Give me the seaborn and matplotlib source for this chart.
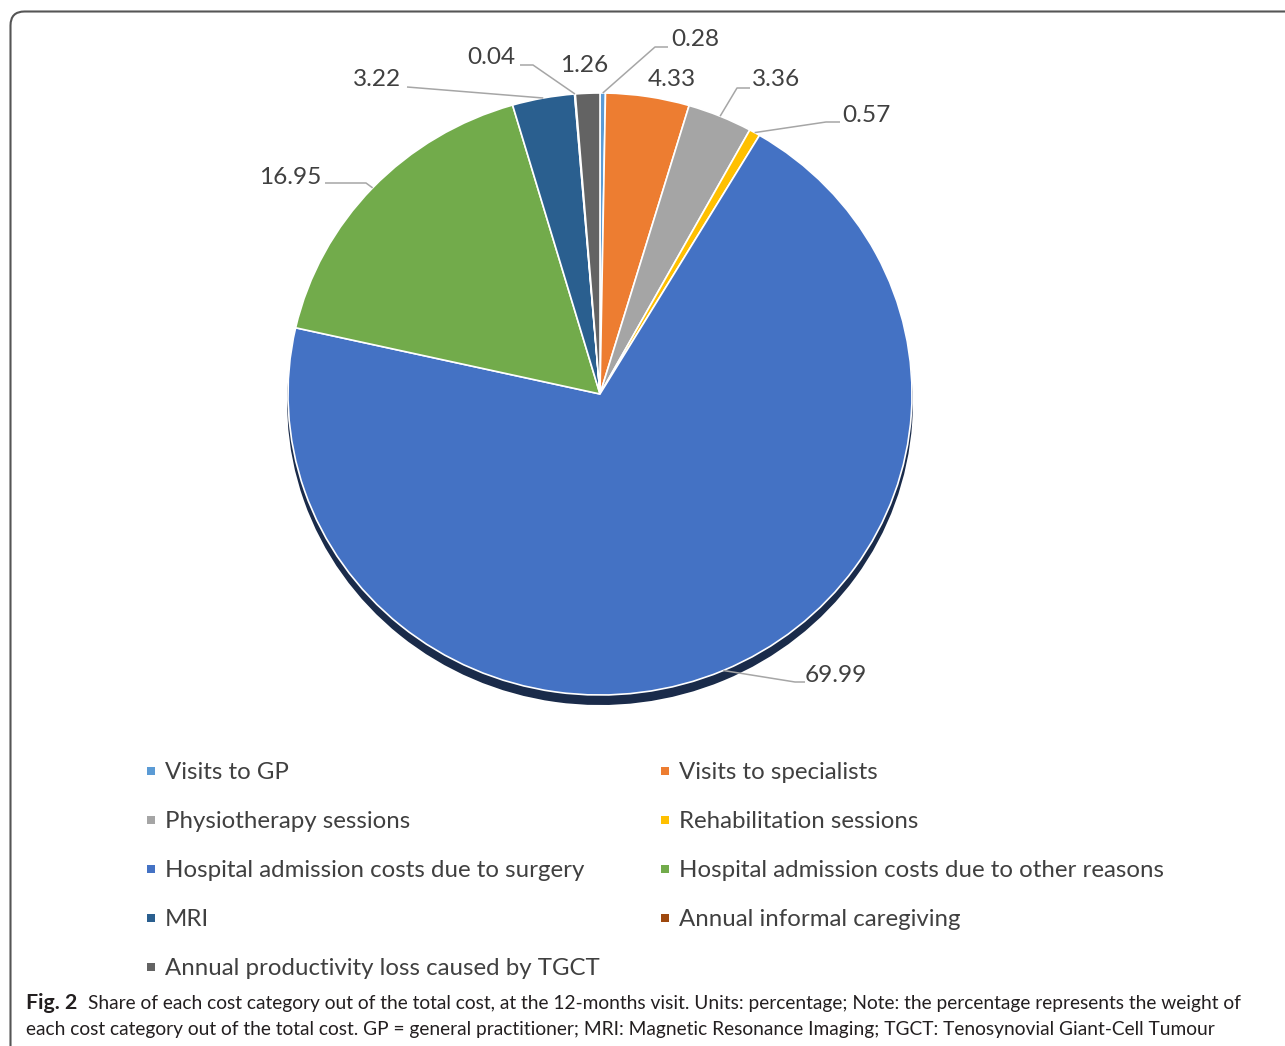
import numpy as np
import matplotlib
matplotlib.use('Agg')
import matplotlib.pyplot as plt
import matplotlib.transforms as mtransforms
import seaborn as sns
from matplotlib.lines import Line2D
from matplotlib.patches import FancyBboxPatch

# ---------------- data ----------------
categories = ["Visits to GP", "Visits to specialists", "Physiotherapy sessions",
              "Rehabilitation sessions", "Hospital admission costs due to surgery",
              "Hospital admission costs due to other reasons", "MRI",
              "Annual informal caregiving", "Annual productivity loss caused by TGCT"]
shares = [0.28, 4.33, 3.36, 0.57, 69.99, 16.95, 3.22, 0.04, 1.26]
colors = ["#5B9BD5", "#ED7D31", "#A5A5A5", "#FFC000", "#4472C4",
          "#72AB4B", "#2A5F8F", "#9E480E", "#636363"]
caption_bold = "Fig. 2"
caption_1 = ("Share of each cost category out of the total cost, at the 12-months visit. "
             "Units: percentage; Note: the percentage represents the weight of")
caption_2 = ("each cost category out of the total cost. GP = general practitioner; "
             "MRI: Magnetic Resonance Imaging; TGCT: Tenosynovial Giant-Cell Tumour")

# ---------------- layout ----------------
sns.set_theme(style='white')
plt.rcParams['font.family'] = ['Lato', 'DejaVu Sans']

W, H = 1285, 1046
fig = plt.figure(figsize=(W / 100, H / 100), dpi=100)
fig.patch.set_facecolor('white')
ax = fig.add_axes([0, 0, 1, 1])
CX, CY, RX, RY = 600, 394, 312, 301


def P(px, py):
    """pixel position (from top-left) -> pie data coordinates"""
    return ((px - CX) / RX, (CY - py) / RY)


wedges, _ = ax.pie(shares, colors=colors, startangle=90, counterclock=False,
                   radius=1.0,
                   wedgeprops=dict(edgecolor='white', linewidth=1.2),
                   shadow=dict(ox=0.0, oy=-0.022, shade=0.62, alpha=1))
ax.set_aspect('auto')
ax.set_xlim(P(0, 0)[0], P(W, 0)[0])
ax.set_ylim(P(0, H)[1], P(0, 0)[1])
ax.axis('off')

# data labels with leader lines
label_pos = [(695, 40), (672, 80), (776, 79), (866, 115), (836, 675),
             (290, 177), (377, 79), (491, 57), (584, 65)]
leader_pts = [[(655, 47), (668, 47)], None, [(737, 88), (750, 88)],
              [(826, 122), (840, 122)], [(795, 682), (805, 682)],
              [(366, 183), (325, 183)], [(407, 87)], [(533, 65), (520, 65)], None]
for w, v, pos, pts in zip(wedges, shares, label_pos, leader_pts):
    ax.text(*P(*pos), f"{v:.2f}", ha='center', va='center', fontsize=17.6,
            color='#404040')
    if pts is not None:
        th = np.deg2rad((w.theta1 + w.theta2) / 2)
        xs = [w.r * np.cos(th)] + [P(*p)[0] for p in pts]
        ys = [w.r * np.sin(th)] + [P(*p)[1] for p in pts]
        ax.plot(xs, ys, color='#A6A6A6', lw=1.1, solid_capstyle='butt', zorder=3)

# legend (two columns, row-major order)
handles = [Line2D([], [], marker='s', linestyle='none', markersize=5.5,
                  markerfacecolor=c, markeredgewidth=0) for c in colors]
fs = 17.3
for idx, x0 in (([0, 2, 4, 6, 8], 145.0), ([1, 3, 5, 7], 659.0)):
    fig.legend([handles[i] for i in idx], [categories[i] for i in idx],
               loc='upper left', bbox_to_anchor=(x0 / W, 1 - 762 / H),
               bbox_transform=fig.transFigure, frameon=False, fontsize=fs,
               handlelength=0.5, handletextpad=0.33, labelspacing=1.168,
               borderpad=0, borderaxespad=0, labelcolor='#404040')

# caption
cap_col = '#231F20'
t2 = fig.text(26 / W, 1 - 1029 / H, caption_2, fontsize=13, va='center',
              ha='left', color=cap_col)
r = fig.canvas.get_renderer()
wd = t2.get_window_extent(r).width
cap_fs = 13 * 1187 / wd
t2.set_fontsize(cap_fs)
fig.text(26 / W, 1 - 1003 / H, caption_bold, fontsize=cap_fs * 1.12, fontweight='bold',
         va='center', ha='left', color=cap_col)
fig.text(88 / W, 1 - 1003 / H, caption_1, fontsize=cap_fs, va='center',
         ha='left', color=cap_col)

# rounded frame
frame = FancyBboxPatch((10.5, -30), 1320, H - 11.5 + 30,
                       boxstyle="round,pad=0,rounding_size=14",
                       transform=mtransforms.IdentityTransform(),
                       facecolor='none', edgecolor='#555555', lw=1.5)
fig.add_artist(frame)

fig.savefig('out.png', dpi=100)
